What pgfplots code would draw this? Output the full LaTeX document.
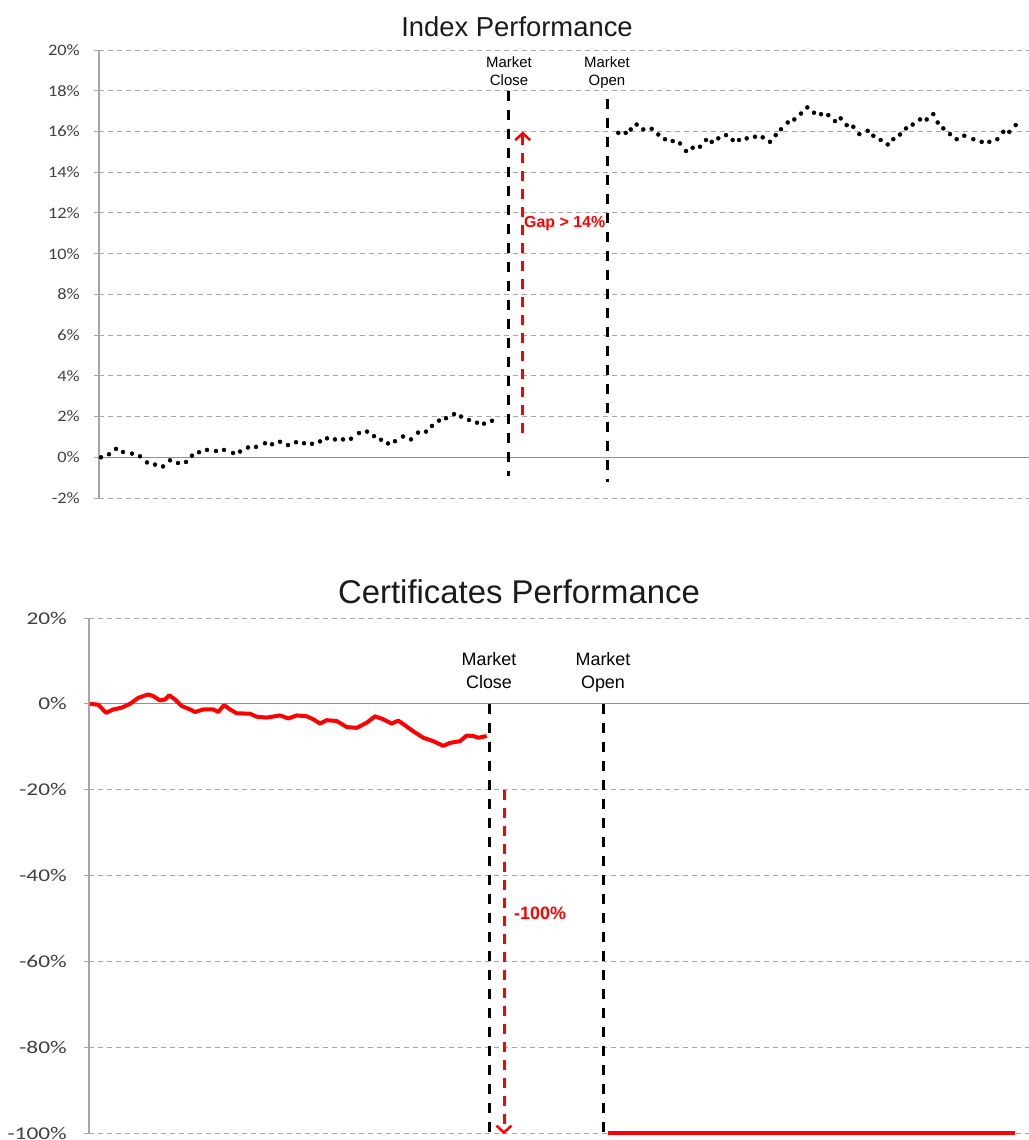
\documentclass[border=0pt]{standalone}
\usepackage{pgfplots}
\pgfplotsset{compat=1.18}
\usepackage{fontspec}
\setmainfont{Liberation Sans}
\newfontfamily\calibriA{Carlito}[FakeStretch=1.15]
\newfontfamily\calibriB{Carlito}[FakeStretch=1.3]
\usetikzlibrary{arrows.meta}

\definecolor{gridgray}{HTML}{A6A6A6}
\definecolor{axgray}{HTML}{A6A6A6}
\definecolor{labgray}{HTML}{404040}
\definecolor{zerogray}{HTML}{909090}
\definecolor{titlecol}{HTML}{1A1A1A}

\pgfplotsset{
  mybase/.style={
    scale only axis,
    axis lines*=left,
    x axis line style={draw=none},
    y axis line style={axgray, line width=1.2bp},
    xtick=\empty,
    ymajorgrids,
    major grid style={gridgray, dash pattern=on 5bp off 4bp, line width=1bp},
    tick align=outside,
    ytick style={axgray, line width=1bp},
    major tick length=5bp,
    clip=false,
  }
}

\begin{document}
\begin{tikzpicture}
\useasboundingbox (0,0) rectangle (1029bp,-1140bp);

% ---------------- Top: Index Performance ----------------
\begin{axis}[mybase,
  at={(99bp,-498bp)}, anchor=south west,
  width=930bp, height=448bp,
  xmin=99, xmax=1029, ymin=-2, ymax=20,
  ytick={-2,0,2,4,6,8,10,12,14,16,18,20},
  yticklabels={-2\%,0\%,2\%,4\%,6\%,8\%,10\%,12\%,14\%,16\%,18\%,20\%},
  yticklabel style={font=\calibriA\fontsize{16}{16}\selectfont, text=labgray, anchor=east, inner sep=0pt, xshift=-14bp},
]
\addplot[zerogray, line width=1.2bp] coordinates {(99,0) (1029,0)};
\addplot[black, line width=3bp, dash pattern=on 10bp off 9bp] coordinates {(508,18.0) (508,-0.9)};
\addplot[black, line width=3bp, dash pattern=on 10bp off 9bp] coordinates {(607,17.6) (607,-1.2)};
\addplot[only marks, mark=*, mark size=2bp, black] coordinates {
(101,0)(109,0.15)(116,0.41)(123,0.26)(132,0.18)(140,0.05)(147,-0.25)(155,-0.36)(163,-0.45)(170,-0.15)
(178,-0.28)(186,-0.23)(192,0.08)(199,0.25)(207,0.36)(216,0.31)(224,0.36)(233,0.21)(240,0.28)(248,0.48)
(256,0.51)(265,0.69)(272,0.64)(280,0.76)(288,0.60)(296,0.74)(304,0.69)(312,0.66)(320,0.78)(327,0.93)
(335,0.88)(343,0.88)(351,0.91)(359,1.19)(367,1.26)(374,1.04)(381,0.86)(388,0.68)(395,0.79)(403,1.02)
(411,0.88)(418,1.21)(426,1.26)(432,1.54)(439,1.80)(446,1.92)(454,2.12)(461,2.00)(469,1.83)(477,1.70)
(484,1.65)(492,1.79)
(618.3,15.93)(625.7,15.93)(630.7,16.10)(636.7,16.34)(643.3,16.10)(651.7,16.13)(658.3,15.85)(665,15.62)
(672.7,15.53)(680,15.41)(686,15.04)(692.7,15.20)(700,15.25)(706,15.58)(711.7,15.49)(718.3,15.66)
(726,15.82)(732.7,15.58)(739,15.58)(746.7,15.66)(755,15.74)(762.7,15.71)(770,15.49)(775.7,15.82)
(781,16.11)(787.7,16.44)(794.3,16.59)(801,16.88)(807.3,17.18)(814,16.92)(821,16.85)(828.3,16.80)
(835,16.51)(840.7,16.64)(846.7,16.31)(853.3,16.23)(859.3,15.87)(867.7,16.03)(873.3,15.79)(880.7,15.58)
(887.7,15.36)(893.3,15.62)(900,15.85)(906,16.15)(912.7,16.34)(920,16.59)(926.7,16.59)(933.3,16.85)
(937.7,16.44)(943.3,16.15)(950,15.87)(956.7,15.62)(964.3,15.79)(973.3,15.62)(981.7,15.49)(989.3,15.49)
(997.3,15.62)(1003.3,15.98)(1009.3,15.98)(1015.7,16.31)
};
\draw[red, line width=3bp, dash pattern=on 10bp off 8bp, -{Straight Barb[length=7bp, width=15bp, line width=2.5bp]}]
  (axis cs:522.7,1.2) -- (axis cs:522.7,16.0);
\node[anchor=west, text=red, font=\bfseries\fontsize{16}{16}\selectfont, inner sep=0pt] at (axis cs:524,11.5) {Gap > 14\%};
\end{axis}

\node[anchor=base, text=titlecol, font=\fontsize{27.5}{27.5}\selectfont, inner sep=0pt] at (517bp,-36bp) {Index Performance};
\node[anchor=base, font=\fontsize{15}{15}\selectfont, inner sep=0pt] at (509bp,-67bp) {Market};
\node[anchor=base, font=\fontsize{15}{15}\selectfont, inner sep=0pt] at (509bp,-85bp) {Close};
\node[anchor=base, font=\fontsize{15}{15}\selectfont, inner sep=0pt] at (607bp,-67bp) {Market};
\node[anchor=base, font=\fontsize{15}{15}\selectfont, inner sep=0pt] at (607bp,-85bp) {Open};

% ---------------- Bottom: Certificates Performance ----------------
\begin{axis}[mybase,
  at={(89bp,-1133bp)}, anchor=south west,
  width=940bp, height=515bp,
  xmin=89, xmax=1029, ymin=-100, ymax=20,
  ytick={-100,-80,-60,-40,-20,0,20},
  yticklabels={-100\%,-80\%,-60\%,-40\%,-20\%,0\%,20\%},
  yticklabel style={font=\calibriB\fontsize{18}{18}\selectfont, text=labgray, anchor=east, inner sep=0pt, xshift=-17bp},
]
\addplot[zerogray, line width=1.2bp] coordinates {(89,0) (1029,0)};
\addplot[black, line width=3bp, dash pattern=on 10bp off 9bp] coordinates {(489,0) (489,-100)};
\addplot[black, line width=3bp, dash pattern=on 10bp off 9bp] coordinates {(603,0) (603,-100)};
\addplot[red, line width=4bp, line join=round] coordinates {
(90,0)(98.3,-0.2)(106,-2.1)(113.3,-1.3)(121.7,-0.9)(130,0)(138.3,1.4)(148.3,2.2)(153.3,1.8)(160,0.8)
(165,1.0)(169.3,2.0)(175,1.0)(181.7,-0.5)(190,-1.3)(195,-1.9)(203.3,-1.3)(213.3,-1.3)(218.3,-1.9)(224,-0.3)
(230,-1.3)(236.7,-2.2)(250,-2.3)(256.7,-3.0)(266.7,-3.2)(280,-2.7)(288.3,-3.4)(296.7,-2.7)(306.7,-2.9)(313.3,-3.6)
(320,-4.6)(326.7,-3.8)(336.7,-4.0)(346.7,-5.4)(356.7,-5.6)(366.7,-4.4)(375,-2.9)(383.3,-3.6)(391.7,-4.6)(398.3,-3.9)
(405,-5.0)(413.3,-6.4)(423.3,-7.9)(433.3,-8.7)(443.3,-9.8)(450,-9.1)(460,-8.7)(466.7,-7.4)(473.3,-7.5)(478.3,-7.9)
(486.7,-7.5)
};
\addplot[red, line width=4bp] coordinates {(608,-100) (1015,-100)};
\draw[red, line width=3bp, dash pattern=on 10bp off 8bp, -{Straight Barb[length=7bp, width=15bp, line width=2.5bp]}]
  (axis cs:504,-20) -- (axis cs:504,-100.3);
\node[anchor=west, text=red, font=\bfseries\fontsize{18}{18}\selectfont, inner sep=0pt] at (axis cs:514,-48.7) {-100\%};
\end{axis}

\node[anchor=base, text=titlecol, font=\fontsize{33}{33}\selectfont, inner sep=0pt] at (519bp,-603bp) {Certificates Performance};
\node[anchor=base, font=\fontsize{18}{18}\selectfont, inner sep=0pt] at (489bp,-665bp) {Market};
\node[anchor=base, font=\fontsize{18}{18}\selectfont, inner sep=0pt] at (489bp,-688bp) {Close};
\node[anchor=base, font=\fontsize{18}{18}\selectfont, inner sep=0pt] at (603bp,-665bp) {Market};
\node[anchor=base, font=\fontsize{18}{18}\selectfont, inner sep=0pt] at (603bp,-688bp) {Open};
\end{tikzpicture}
\end{document}
